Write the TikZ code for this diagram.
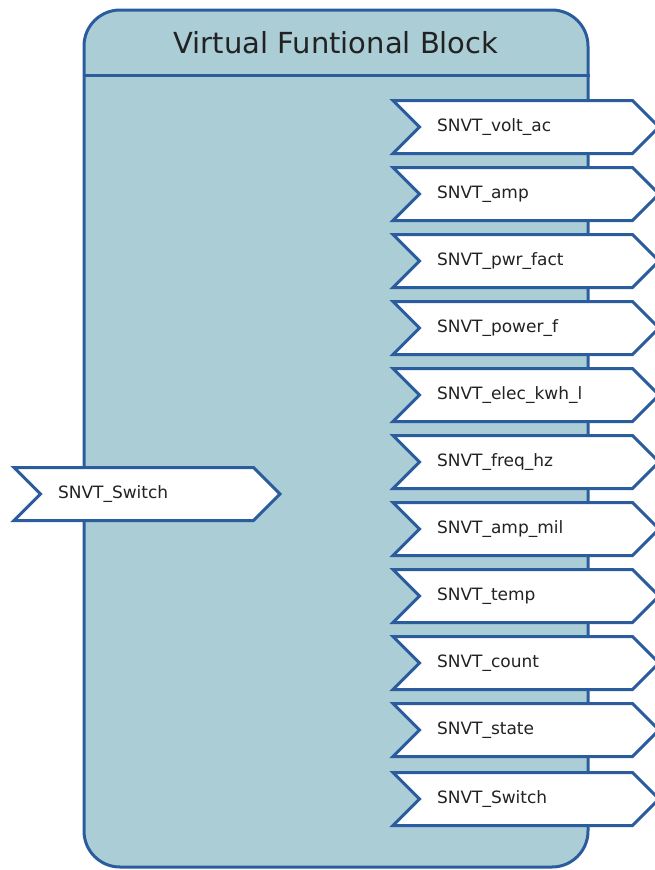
\documentclass[tikz,border=0pt]{standalone}
\usepackage{fontspec}
\setmainfont{DejaVu Sans}
\usepackage{xcolor}
\usepackage{tikz}
\usetikzlibrary{shapes.symbols,positioning}

\definecolor{blockfill}{HTML}{ABCDD6}
\definecolor{blockline}{HTML}{2B5D9E}
\definecolor{textgray}{HTML}{222222}

\begin{document}
\begin{tikzpicture}[
    x=1pt, y=-1pt,
    block/.style={rectangle, draw=blockline, fill=blockfill, line width=3pt, rounded corners=36pt, minimum width=504pt, minimum height=857pt},
    header/.style={font=\fontsize{29}{34}\selectfont, text=textgray},
    netvar/.style={signal, signal to=east, signal from=west, signal pointer angle=90, draw=blockline, fill=white, line width=3pt, minimum width=266pt, minimum height=53pt, text width=178pt, align=left, inner sep=0pt, font=\fontsize{17}{20}\selectfont, text=textgray}
]
\useasboundingbox (0,0) rectangle (654,870);

% Functional block body
\node[block] (vfb) at (336,438.5) {};
\node[header] (title) at (336,43) {Virtual Funtional Block};
\coordinate (hdr) at (0,75);
\draw[blockline, line width=3pt] (vfb.west |- hdr) -- (vfb.east |- hdr);

% Input network variable
\node[netvar] (in1) at (147,494) {SNVT\_Switch};

% Output network variables
\foreach \lbl [count=\i] in {SNVT\_volt\_ac, SNVT\_amp, SNVT\_pwr\_fact, SNVT\_power\_f, SNVT\_elec\_kwh\_l, SNVT\_freq\_hz, SNVT\_amp\_mil, SNVT\_temp, SNVT\_count, SNVT\_state}
    \node[netvar] (out\i) at (526,{127+67*(\i-1)}) {\lbl};
\node[netvar] (out11) at (526,799) {SNVT\_Switch};

\end{tikzpicture}
\end{document}
